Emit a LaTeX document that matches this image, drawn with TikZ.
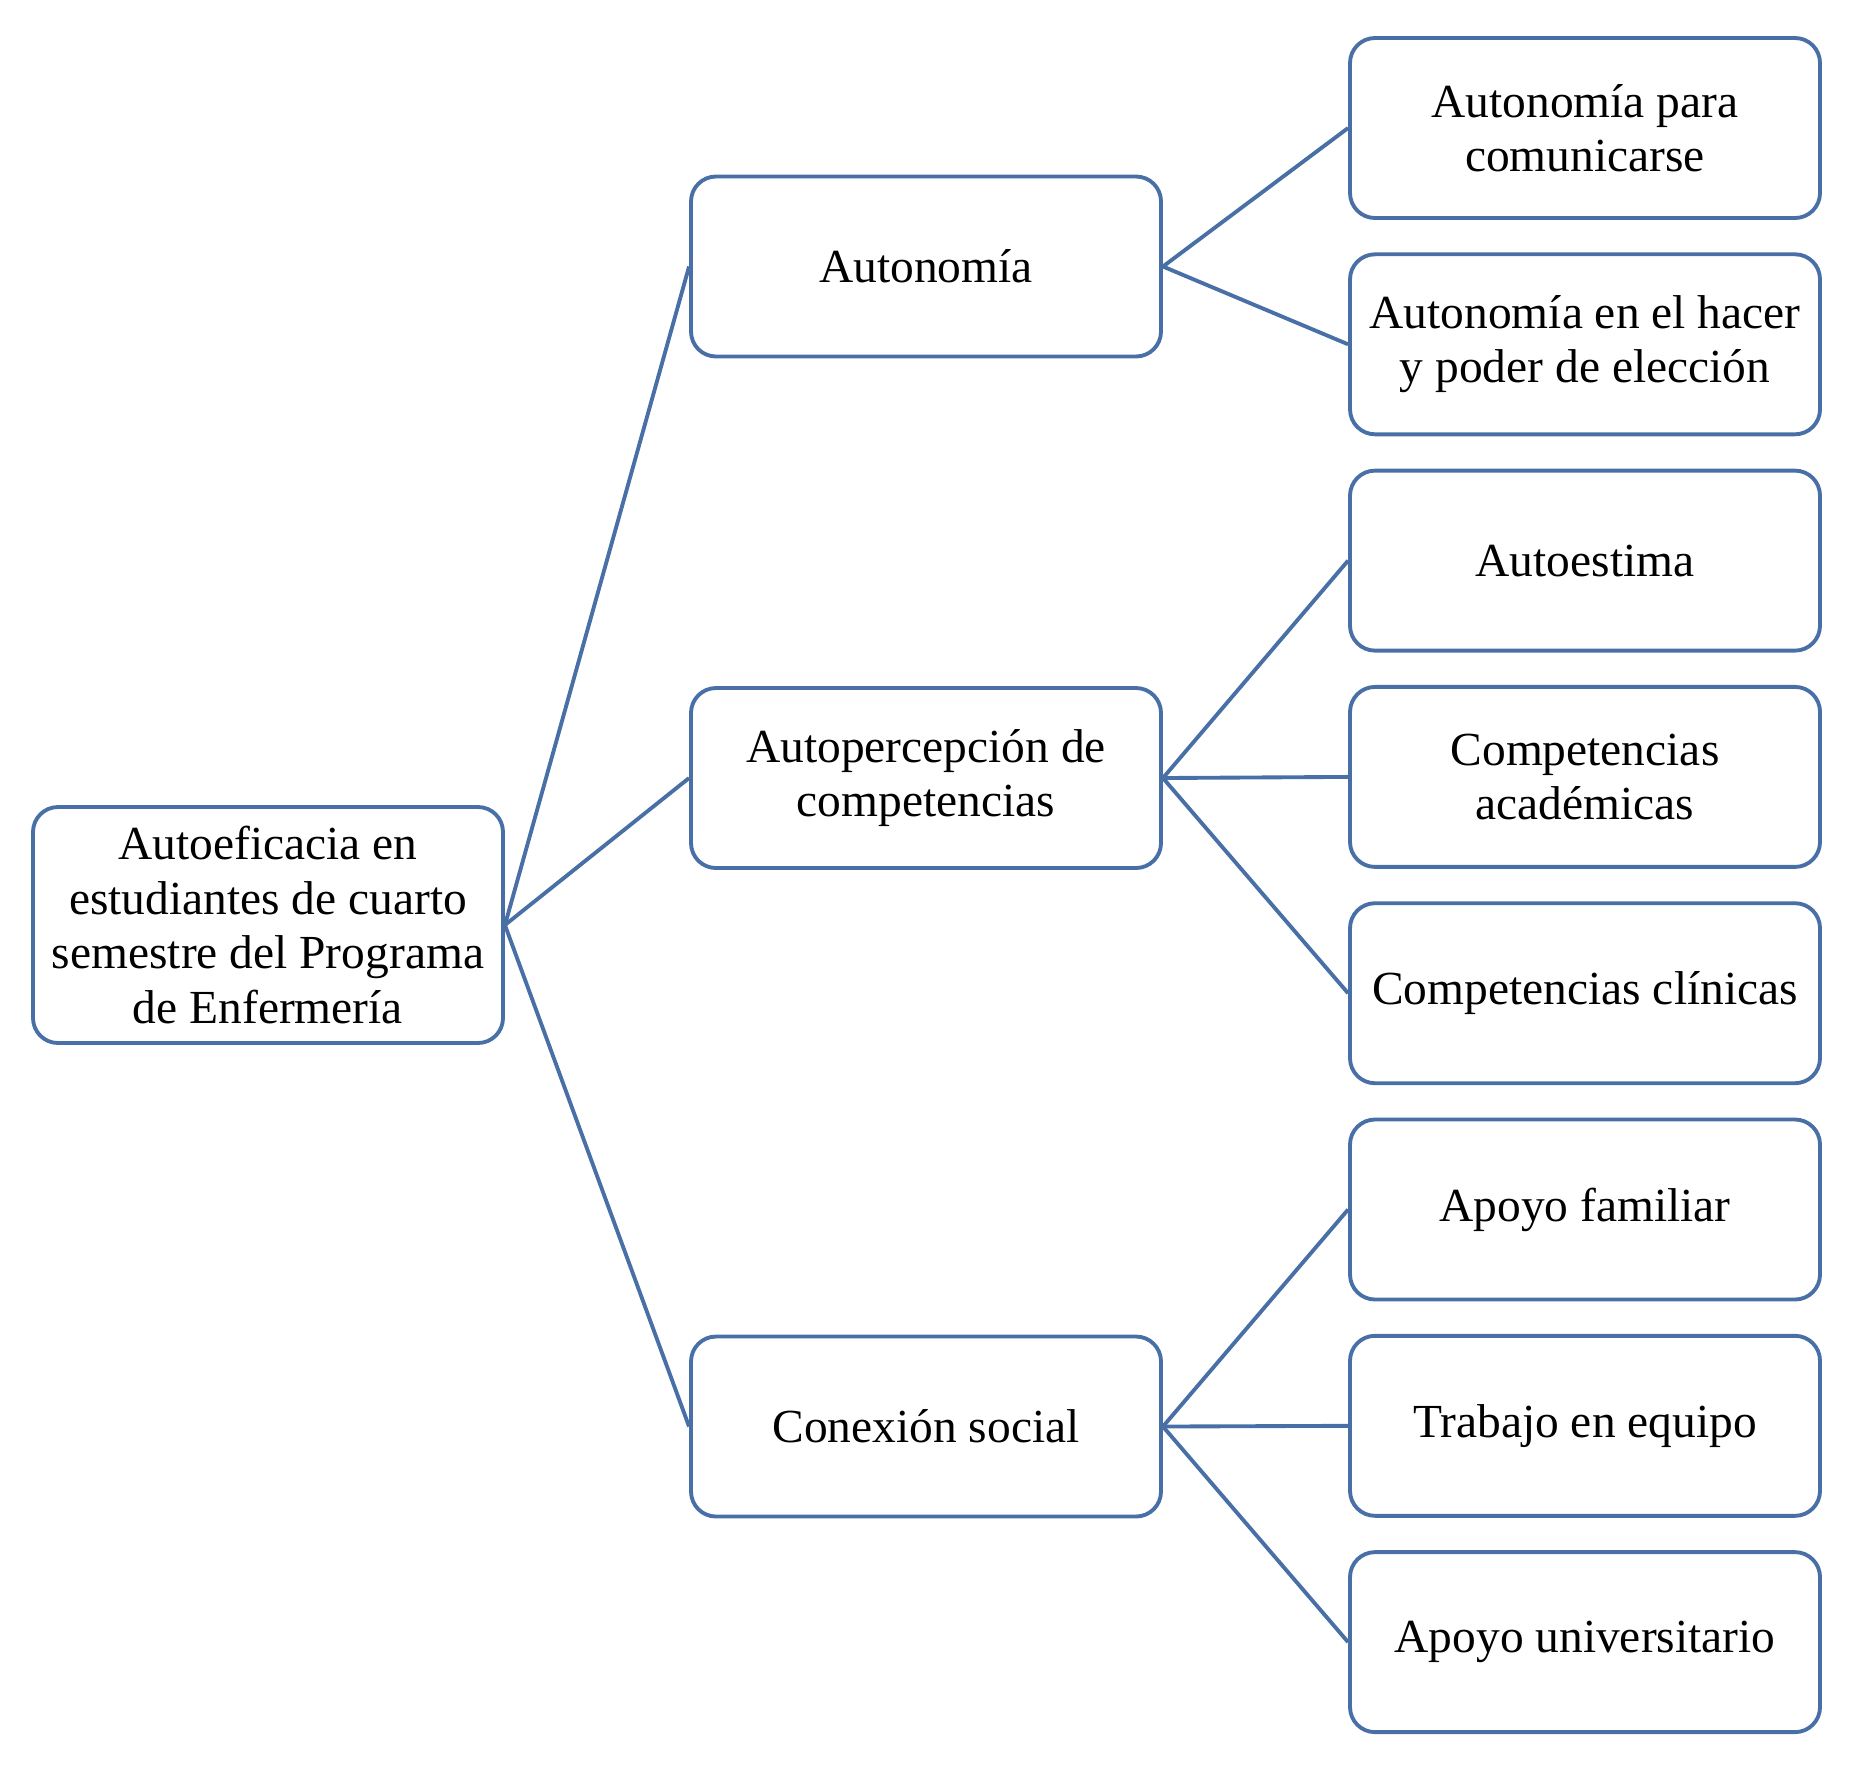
\documentclass[tikz,border=0pt]{standalone}
\usepackage{fontspec}
\setmainfont{Liberation Serif}
\definecolor{azulborde}{RGB}{72,112,166}
\begin{document}
\begin{tikzpicture}[
    caja/.style={draw=azulborde, line width=1.1pt, rounded corners=0.25cm,
      minimum width=4.7cm, minimum height=1.8cm, align=center,
      font=\fontsize{13.5}{15.5}\selectfont},
    rama/.style={draw=azulborde, line width=1.1pt}
  ]
    \useasboundingbox (0,0) rectangle (18.74,-17.80);
    % Raiz
    \node[caja, minimum height=2.36cm] (raiz) at (2.68,-9.25)
      {Autoeficacia en\\estudiantes de cuarto\\semestre del Programa\\de Enfermería};
    % Dimensiones
    \def\xmedio{9.26}
    \node[caja] (autonomia) at (\xmedio,-2.665) {Autonomía};
    \node[caja] (percepcion) at (\xmedio,-7.78) {Autopercepción de\\competencias};
    \node[caja] (conexion) at (\xmedio,-14.265) {Conexión social};
    % Subdimensiones
    \def\xderecha{15.85}
    \def\paso{2.163}
    \foreach \nombre/\texto [count=\i from 0] in {
        comunicarse/{Autonomía para\\comunicarse},
        eleccion/{Autonomía en el hacer\\y poder de elección},
        autoestima/{Autoestima},
        academicas/{Competencias\\académicas},
        clinicas/{Competencias clínicas},
        familiar/{Apoyo familiar},
        equipo/{Trabajo en equipo},
        universitario/{Apoyo universitario}}{
      \node[caja] (\nombre) at (\xderecha,-1.28-\i*\paso) {\texto};
    }
    % Ramas
    \foreach \hijo in {autonomia,percepcion,conexion}
      \draw[rama] (raiz.east) -- (\hijo.west);
    \foreach \hijo in {comunicarse,eleccion}
      \draw[rama] (autonomia.east) -- (\hijo.west);
    \foreach \hijo in {autoestima,academicas,clinicas}
      \draw[rama] (percepcion.east) -- (\hijo.west);
    \foreach \hijo in {familiar,equipo,universitario}
      \draw[rama] (conexion.east) -- (\hijo.west);
  \end{tikzpicture}
\end{document}
